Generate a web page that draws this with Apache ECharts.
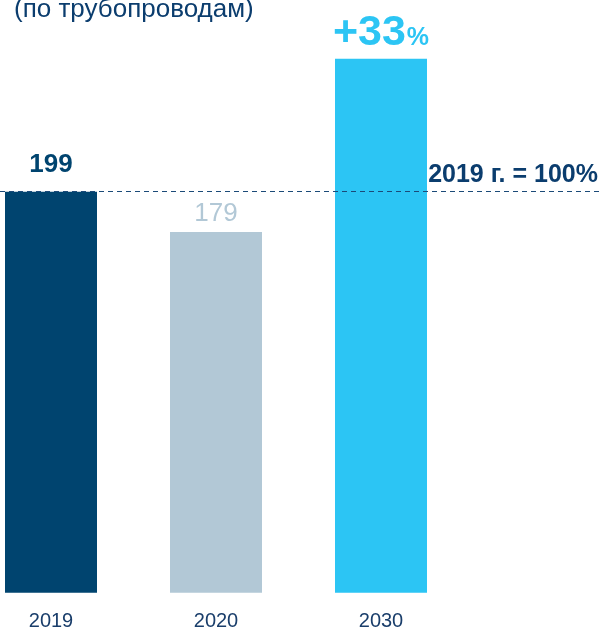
<!DOCTYPE html>
<html><head><meta charset="utf-8">
<script src="https://cdn.jsdelivr.net/npm/echarts@6/dist/echarts.min.js"></script>
<style>html,body{margin:0;padding:0;background:#fff}#c{width:603px;height:630px}</style>
</head><body><div id="c"></div>
<script>
const categories = ['2019', '2020', '2030'];
const values = [199, 179, 265];
const baseValue = 199;
const baseLabel = '2019 г. = 100%';
const titleText = '(по трубопроводам)';

const FONT = '"Liberation Sans Narrow", "Liberation Sans", Arial, sans-serif';
const navy = '#00446f';
const grey = '#b2c8d6';
const cyan = '#2cc5f4';

const growth = Math.round((values[2] / baseValue - 1) * 100);

const chart = echarts.init(document.getElementById('c'));
const gridTop = 8.3, gridBottom = 37.3, yMax = 290;
chart.setOption({
  animation: false,
  title: {
    text: titleText, left: 9, top: -8,
    textStyle: { fontFamily: FONT, fontSize: 26, fontWeight: 'normal', color: '#0b3d6e' }
  },
  grid: [
    { left: -31.5, width: 495, top: gridTop, bottom: gridBottom, outerBoundsMode: 'none', containLabel: false },
    { left: 0, right: 0, top: gridTop, bottom: gridBottom, outerBoundsMode: 'none' }
  ],
  xAxis: [
    { type: 'category', gridIndex: 0, data: categories,
      axisLine: { show: false }, axisTick: { show: false },
      axisLabel: { fontFamily: FONT, fontSize: 20, color: '#1a3e6b', margin: 19 } },
    { type: 'value', gridIndex: 1, min: 0, max: 1, show: false }
  ],
  yAxis: [
    { type: 'value', gridIndex: 0, min: 0, max: yMax, show: false },
    { type: 'value', gridIndex: 1, min: 0, max: yMax, show: false }
  ],
  series: [
    {
      type: 'bar', xAxisIndex: 0, yAxisIndex: 0, barWidth: 92,
      data: [
        { value: values[0], itemStyle: { color: navy },
          label: { show: true, position: 'top', distance: 14, fontFamily: FONT, fontSize: 26, fontWeight: 'bold', color: navy } },
        { value: values[1], itemStyle: { color: grey },
          label: { show: true, position: 'top', distance: 5, fontFamily: FONT, fontSize: 26, color: grey } },
        { value: values[2], itemStyle: { color: cyan },
          label: { show: true, position: 'top', distance: 4,
            formatter: () => '{a|+' + growth + '}{b|%}',
            rich: {
              a: { fontFamily: FONT, fontSize: 43, fontWeight: 'bold', color: cyan, verticalAlign: 'bottom' },
              b: { fontFamily: FONT, fontSize: 25, fontWeight: 'bold', color: cyan, verticalAlign: 'bottom', padding: [0, 0, 4, 1] }
            } } }
      ]
    },
    {
      type: 'line', xAxisIndex: 1, yAxisIndex: 1, data: [], silent: true,
      markLine: {
        silent: true, symbol: 'none',
        lineStyle: { color: '#1b4a78', type: [5, 4], width: 1.2 },
        label: { show: true, position: 'insideEndTop', distance: [5, 4],
          formatter: baseLabel, fontFamily: FONT, fontSize: 25, fontWeight: 'bold', color: '#0b3d6e' },
        data: [{ yAxis: baseValue }]
      }
    }
  ]
});
</script></body></html>
